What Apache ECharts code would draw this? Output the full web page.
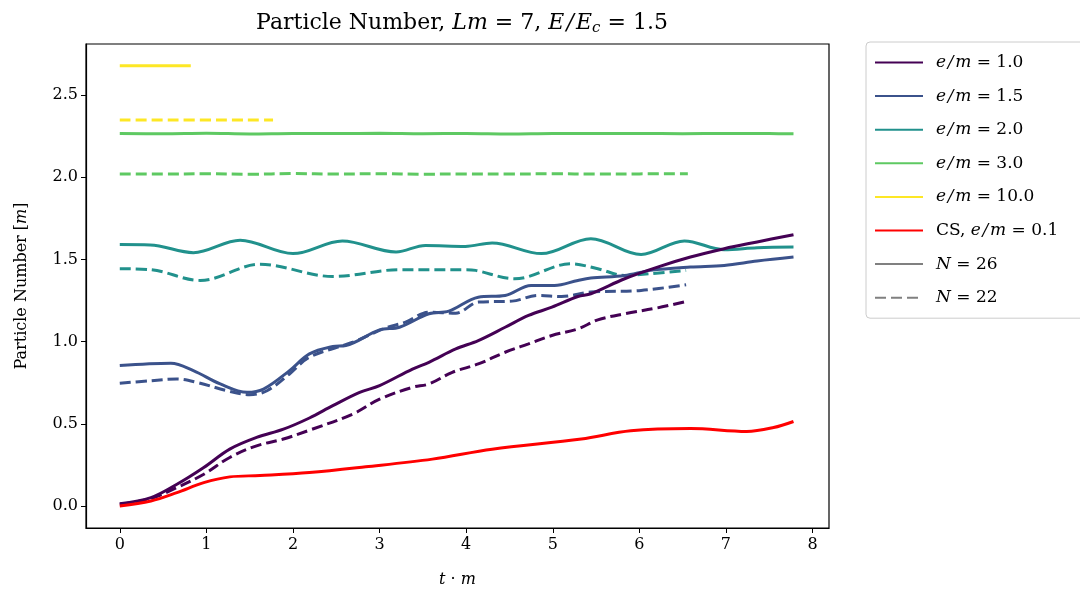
<!DOCTYPE html>
<html>
<head>
<meta charset="utf-8">
<script src="https://cdn.jsdelivr.net/npm/echarts@6/dist/echarts.min.js"></script>
<style>html,body{margin:0;padding:0;background:#fff;}#c{width:1080px;height:597px;}</style>
</head>
<body>
<div id="c"></div>
<script>
// ---- data ----
const xTicks = [0, 1, 2, 3, 4, 5, 6, 7, 8];
const yTicks = [0.0, 0.5, 1.0, 1.5, 2.0, 2.5];

// e/m = 1.0
const t10 = [0, 0.36, 0.66, 0.97, 1.27, 1.58, 1.89, 2.19, 2.46, 2.77, 3.0, 3.38, 3.57, 3.88, 4.14, 4.45, 4.72, 4.99, 5.29, 5.44, 5.83, 6.21, 6.59, 6.98, 7.36, 7.78];
const v10 = [0.014, 0.051, 0.132, 0.234, 0.346, 0.417, 0.467, 0.535, 0.610, 0.691, 0.732, 0.833, 0.874, 0.955, 1.006, 1.087, 1.159, 1.209, 1.274, 1.291, 1.382, 1.453, 1.514, 1.565, 1.606, 1.650];
const t10d = [0, 0.36, 0.66, 0.97, 1.27, 1.58, 1.89, 2.19, 2.69, 3.0, 3.38, 3.57, 3.84, 4.14, 4.45, 4.72, 4.99, 5.29, 5.52, 5.83, 6.21, 6.54];
const v10d = [0.010, 0.045, 0.112, 0.193, 0.295, 0.366, 0.407, 0.461, 0.559, 0.650, 0.722, 0.742, 0.813, 0.864, 0.935, 0.986, 1.037, 1.077, 1.132, 1.169, 1.205, 1.244];

// e/m = 1.5
const t15 = [0, 0.59, 0.85, 1.16, 1.47, 1.66, 1.96, 2.19, 2.46, 2.61, 3.0, 3.23, 3.57, 3.80, 4.14, 4.45, 4.75, 5.02, 5.29, 5.44, 5.83, 6.13, 6.59, 6.98, 7.36, 7.78];
const v15 = [0.854, 0.868, 0.823, 0.742, 0.691, 0.711, 0.823, 0.925, 0.970, 0.976, 1.071, 1.087, 1.169, 1.185, 1.270, 1.280, 1.341, 1.341, 1.372, 1.386, 1.402, 1.433, 1.453, 1.463, 1.490, 1.514];
const t15d = [0, 0.36, 0.66, 0.89, 1.24, 1.50, 1.70, 1.96, 2.19, 2.69, 3.07, 3.30, 3.57, 3.88, 4.14, 4.53, 4.83, 5.10, 5.44, 6.02, 6.54];
const v15d = [0.746, 0.762, 0.772, 0.752, 0.701, 0.677, 0.701, 0.803, 0.905, 0.996, 1.083, 1.118, 1.179, 1.173, 1.240, 1.246, 1.280, 1.274, 1.301, 1.311, 1.346];

// e/m = 2.0
const t20 = [0, 0.35, 0.85, 1.39, 2.0, 2.57, 3.19, 3.53, 3.99, 4.30, 4.87, 5.44, 6.02, 6.52, 6.98, 7.36, 7.78];
const v20 = [1.590, 1.588, 1.541, 1.616, 1.535, 1.612, 1.545, 1.585, 1.579, 1.600, 1.535, 1.626, 1.530, 1.612, 1.559, 1.571, 1.575];
const t20d = [0, 0.36, 0.93, 1.62, 2.46, 3.23, 3.99, 4.11, 4.56, 5.21, 5.52, 5.83, 6.13, 6.54];
const v20d = [1.443, 1.437, 1.372, 1.470, 1.396, 1.437, 1.437, 1.433, 1.382, 1.473, 1.443, 1.402, 1.413, 1.433];

// e/m = 3.0
const t30 = [0, 0.5, 1.0, 1.5, 2.0, 2.5, 3.0, 3.5, 4.0, 4.5, 5.0, 5.5, 6.0, 6.5, 7.0, 7.5, 7.78];
const v30 = [2.266, 2.264, 2.267, 2.263, 2.266, 2.265, 2.267, 2.264, 2.266, 2.263, 2.266, 2.265, 2.266, 2.264, 2.266, 2.265, 2.264];
const t30d = [0, 0.5, 1.0, 1.5, 2.0, 2.5, 3.0, 3.5, 4.0, 4.5, 5.0, 5.5, 6.0, 6.56];
const v30d = [2.020, 2.019, 2.021, 2.018, 2.022, 2.019, 2.021, 2.018, 2.020, 2.019, 2.021, 2.019, 2.020, 2.021];

// e/m = 10.0
const t100 = [0, 0.82];
const v100 = [2.677, 2.677];
const t100d = [0, 1.77];
const v100d = [2.348, 2.348];

// CS, e/m = 0.1
const tCS = [0, 0.36, 0.66, 0.97, 1.27, 1.62, 2.19, 2.84, 3.61, 4.30, 5.33, 5.90, 6.59, 7.24, 7.55, 7.78];
const vCS = [0.0, 0.030, 0.081, 0.142, 0.177, 0.185, 0.203, 0.238, 0.285, 0.345, 0.407, 0.457, 0.471, 0.453, 0.477, 0.514];

const names = ['e/m = 1.0', 'e/m = 1.5', 'e/m = 2.0', 'e/m = 3.0', 'e/m = 10.0', 'CS, e/m = 0.1', 'N = 26', 'N = 22'];
const colors = ['#440154', '#3b528b', '#21918c', '#5ec962', '#fde725', '#ff0000', '#808080', '#808080'];

// ---- chart ----
const FONT = 'DejaVu Serif';
const zip = (t, v) => t.map((x, i) => [x, v[i]]);
const LW = 3;
const DASH = [11, 5];
const EQ = ' = ';
const EM = 'e\u200A/\u200Am';

function line(name, t, v, color, dashed) {
  return {
    name: name, type: 'line', data: zip(t, v), smooth: 0.35, symbol: 'none',
    lineStyle: { color: color, width: LW, type: dashed ? DASH : 'solid', cap: 'butt' },
    itemStyle: { color: color }, emphasis: { disabled: true }, z: 3
  };
}

const series = [
  line(names[4], t100, v100, colors[4], false),
  line(names[4] + ' d', t100d, v100d, colors[4], true),
  line(names[3], t30, v30, colors[3], false),
  line(names[3] + ' d', t30d, v30d, colors[3], true),
  line(names[2], t20, v20, colors[2], false),
  line(names[2] + ' d', t20d, v20d, colors[2], true),
  line(names[1], t15, v15, colors[1], false),
  line(names[1] + ' d', t15d, v15d, colors[1], true),
  line(names[0], t10, v10, colors[0], false),
  line(names[0] + ' d', t10d, v10d, colors[0], true),
  line(names[5], tCS, vCS, colors[5], false),
  line(names[6], [], [], colors[6], false),
  line(names[7], [], [], colors[7], true)
];

const FS = 16;
const LFS = 17;
const rich = {
  i: { fontFamily: FONT, fontStyle: 'italic', fontSize: FS, color: '#000', lineHeight: 18 },
  n: { fontFamily: FONT, fontSize: FS, color: '#000', lineHeight: 18 }
};
const lrich = {
  i: { fontFamily: FONT, fontStyle: 'italic', fontSize: LFS, color: '#000', lineHeight: 18 },
  n: { fontFamily: FONT, fontSize: LFS, color: '#000', lineHeight: 18 }
};

function legendFmt(name) {
  const val = name.split('= ')[1];
  if (name.startsWith('CS')) return '{n|CS, }{i|' + EM + '}{n|' + EQ + val + '}';
  if (name.startsWith('N')) return '{i|N}{n|' + EQ + val + '}';
  return '{i|' + EM + '}{n|' + EQ + val + '}';
}

const chart = echarts.init(document.getElementById('c'), null, { renderer: 'canvas' });
chart.setOption({
  animation: false,
  backgroundColor: '#fff',
  title: {
    text: '{n|Particle Number, }{i|Lm}{n|' + EQ + '7, }{i|E\u200A/\u200AE}{s|c}{n|' + EQ + '1.5}',
    left: 457, top: 5, textAlign: 'center',
    textStyle: {
      fontWeight: 'normal',
      rich: {
        n: { fontFamily: FONT, fontSize: 22, fontWeight: 'normal', color: '#000' },
        i: { fontFamily: FONT, fontStyle: 'italic', fontSize: 22, fontWeight: 'normal', color: '#000' },
        s: { fontFamily: FONT, fontStyle: 'italic', fontSize: 15, fontWeight: 'normal', color: '#000', padding: [11, 0, 0, 0] }
      }
    }
  },
  grid: { left: 86, right: 251, top: 44, bottom: 69, show: true, borderColor: '#000', borderWidth: 1.2, backgroundColor: 'transparent' },
  legend: {
    data: names, orient: 'vertical', left: 866, top: 42,
    itemWidth: 48, itemHeight: 14, itemGap: 16.6,
    padding: [12, 40, 12, 8],
    borderColor: '#cccccc', borderWidth: 1, borderRadius: 4,
    itemStyle: { opacity: 0 },
    formatter: legendFmt,
    textStyle: { rich: lrich, padding: [0, 0, 0, 8] }
  },
  xAxis: {
    type: 'value', min: -0.39, max: 8.19,
    name: '{i|t}{n| · }{i|m}', nameLocation: 'middle', nameGap: 43,
    nameTextStyle: { rich: rich },
    axisLine: { show: true, onZero: false, lineStyle: { color: '#000', width: 1.2 } },
    axisTick: { show: true, inside: false, length: 5, lineStyle: { color: '#000', width: 1 }, customValues: xTicks },
    axisLabel: { show: true, fontFamily: FONT, fontSize: FS, color: '#000', margin: 9, customValues: xTicks, formatter: v => String(v) },
    splitLine: { show: false }
  },
  yAxis: {
    type: 'value', min: -0.134, max: 2.81,
    name: '{n|Particle Number [}{i|m}{n|]}', nameLocation: 'middle', nameGap: 55,
    nameTextStyle: { rich: rich },
    axisLine: { show: true, onZero: false, lineStyle: { color: '#000', width: 1.2 } },
    axisTick: { show: true, inside: false, length: 5, lineStyle: { color: '#000', width: 1 }, customValues: yTicks },
    axisLabel: { show: true, fontFamily: FONT, fontSize: FS, color: '#000', margin: 8, customValues: yTicks, formatter: v => v.toFixed(1) },
    splitLine: { show: false }
  },
  series: series
});
</script>
</body>
</html>
